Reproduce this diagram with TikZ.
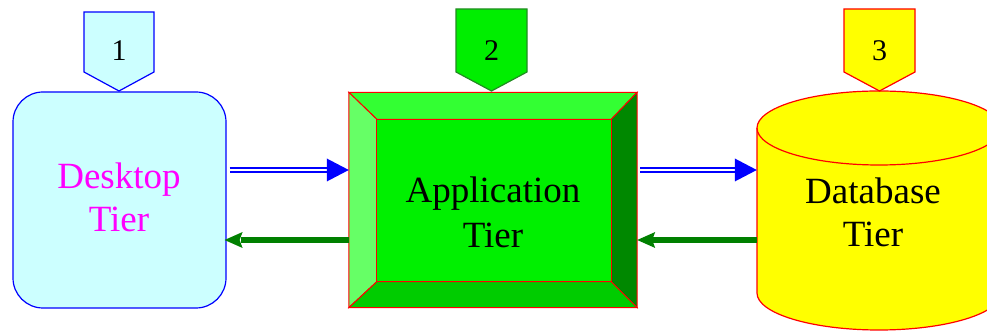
\documentclass[tikz,border=0pt]{standalone}
\usepackage{fontspec}
\setmainfont{Liberation Serif}
\usetikzlibrary{calc}
\definecolor{dtfill}{RGB}{204,255,255}
\definecolor{topc}{RGB}{51,255,51}
\definecolor{leftc}{RGB}{102,255,102}
\definecolor{rightc}{RGB}{0,136,0}
\definecolor{botc}{RGB}{0,204,0}
\definecolor{midc}{RGB}{0,240,0}
\definecolor{tagg}{RGB}{0,238,0}
\definecolor{tagb}{RGB}{34,139,34}
\definecolor{arrg}{RGB}{0,128,0}
\definecolor{mag}{RGB}{255,0,255}
\definecolor{yel}{RGB}{255,255,0}
\definecolor{rd}{RGB}{255,0,0}
\definecolor{bl}{RGB}{0,0,255}
\begin{document}
\begin{tikzpicture}[x=1pt,y=1pt,
  lbl/.style={font=\fontsize{37}{44}\selectfont, anchor=base, inner sep=0pt},
  num/.style={font=\fontsize{30}{36}\selectfont, anchor=base, inner sep=0pt},
  bev/.style={draw=rd, line width=1pt, line join=miter},
  tagline/.style={line width=1.2pt},
  blu/.style={draw=bl, line width=2pt, double=white, double distance=2.5pt},
  grn/.style={draw=arrg, line width=6pt}]
\useasboundingbox (0,0) rectangle (987,331);

% ---------- Desktop tier ----------
\node[draw=bl, line width=1.2pt, fill=dtfill, rounded corners=30pt,
      minimum width=213pt, minimum height=216pt, inner sep=0pt] (dt) at (119.5,131) {};
\node[lbl, text=mag] (dtA) at (119,142) {Desktop};
\node[lbl, text=mag] (dtB) at (119,99) {Tier};
\draw[tagline, draw=bl, fill=dtfill] (84,319) -- (154,319) -- (154,259) -- (119,240) -- (84,259) -- cycle;
\node[num] (n1) at (119,270) {1};

% ---------- Application tier ----------
\node[minimum width=288pt, minimum height=215pt, inner sep=0pt] (app) at (493,131) {};
\coordinate (inw) at ($(app.north west)+(28,-27)$);
\coordinate (ine) at ($(app.north east)+(-26,-27)$);
\coordinate (ise) at ($(app.south east)+(-26,26)$);
\coordinate (isw) at ($(app.south west)+(28,26)$);
\draw[bev, fill=topc] (app.north west) -- (app.north east) -- (ine) -- (inw) -- cycle;
\draw[bev, fill=leftc] (app.north west) -- (inw) -- (isw) -- (app.south west) -- cycle;
\draw[bev, fill=rightc] (app.north east) -- (ine) -- (ise) -- (app.south east) -- cycle;
\draw[bev, fill=botc] (app.south west) -- (isw) -- (ise) -- (app.south east) -- cycle;
\draw[bev, fill=midc] (inw) rectangle (ise);
\node[lbl] (apA) at (493,128) {Application};
\node[lbl] (apB) at (493,83) {Tier};
\draw[tagline, draw=tagb, fill=tagg] (456,322) -- (527,322) -- (527,259) -- (491.5,240) -- (456,259) -- cycle;
\node[num] (n2) at (491.5,270) {2};

% ---------- Database tier ----------
\node[minimum width=244pt, minimum height=200pt, inner sep=0pt] (db) at (879,131) {};
\fill[yel] (757,203) -- (757,38) arc[start angle=180, end angle=360, x radius=122, y radius=37]
   -- (1001,203) arc[start angle=0, end angle=180, x radius=122, y radius=37] -- cycle;
\draw[rd, line width=1.2pt] (757,203) -- (757,38) arc[start angle=180, end angle=360, x radius=122, y radius=37]
   -- (1001,203) arc[start angle=0, end angle=180, x radius=122, y radius=37];
\draw[rd, line width=1.2pt] (757,203) arc[start angle=180, end angle=360, x radius=122, y radius=37];
\node[lbl] (dbA) at (873,127) {Database};
\node[lbl] (dbB) at (873,84) {Tier};
\draw[tagline, draw=rd, fill=yel] (844,322) -- (915,322) -- (915,259) -- (879.5,240) -- (844,259) -- cycle;
\node[num] (n3) at (879.5,270) {3};

% ---------- connectors ----------
% blue double arrows (requests)
\draw[blu] ($(dt.east)+(3,30)$) -- ($(app.west)+(-21,30)$);
\fill[bl] ($(app.west)+(0,30)$) -- ++(-22,11.5) -- ++(0,-23) -- cycle;
\draw[blu] ($(app.east)+(3,30)$) -- ($(db.west)+(-21,30)$);
\fill[bl] ($(db.west)+(0,30)$) -- ++(-22,11.5) -- ++(0,-23) -- cycle;
% green arrows (responses)
\draw[grn] ($(app.west)+(0,-40)$) -- ($(dt.east)+(14,-40)$);
\fill[arrg] ($(dt.east)+(-2,-40)$) -- ++(18,8) -- ++(-3,-8) -- ++(3,-8) -- cycle;
\draw[grn] ($(db.west)+(0,-40)$) -- ($(app.east)+(14,-40)$);
\fill[arrg] ($(app.east)+(0,-40)$) -- ++(18,8) -- ++(-3,-8) -- ++(3,-8) -- cycle;
\end{tikzpicture}
\end{document}
